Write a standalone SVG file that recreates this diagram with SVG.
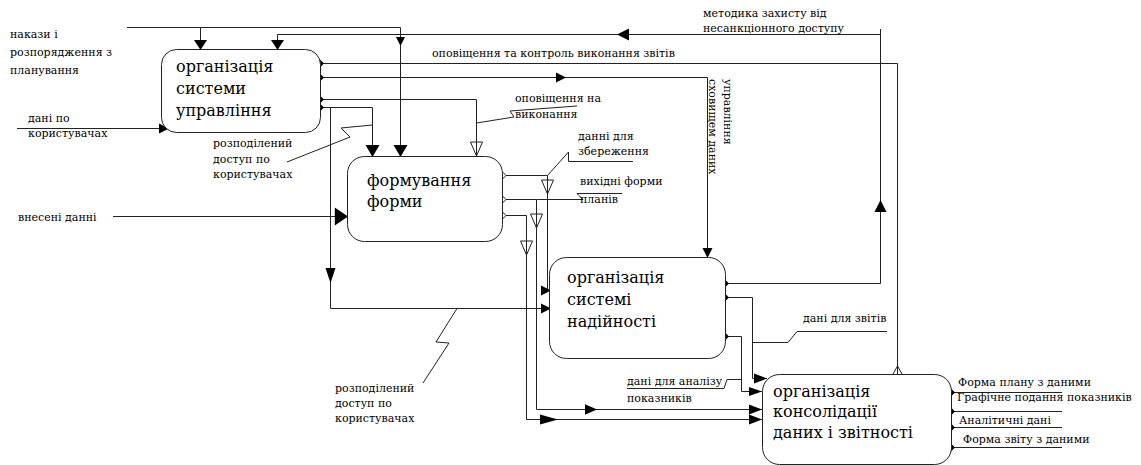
<svg xmlns="http://www.w3.org/2000/svg" xmlns:xlink="http://www.w3.org/1999/xlink" width="1141" height="465" viewBox="0 0 1141 465">
<style>
.box{fill:#fff;stroke:#222;stroke-width:1}
.nt{font-family:'DejaVu Serif','Noto Serif',serif;font-size:16px;fill:#000}
.lb{font-family:'DejaVu Serif','Noto Serif',serif;font-size:11px;fill:#000}
.ln{fill:none;stroke:#222;stroke-width:1}
.ar{fill:#000;stroke:none}
.ho{fill:none;stroke:#222;stroke-width:1}
.dh{fill:#fff;stroke:#222;stroke-width:1}
</style>
<defs>
<path id="a" d="M0,0 L-10,-5 L-10,5 Z"/>
<path id="aB" d="M0,0 L-12,-7 L-12,7 Z"/>
<path id="aL" d="M0,0 L-18,-5 L-18,5 Z"/>
<path id="h" d="M0,0 L-6,-14 L6,-14 Z"/>
<path id="d" d="M-4,0 L0,-4 L4,0 L0,4 Z"/>
</defs>
<rect width="1141" height="465" fill="#fff"/>

<g id="connectors">
  <path class="ln" d="M127,27.5 H400.5 V156"/>
  <path class="ln" d="M200.5,27.5 V49"/>
  <path class="ln" d="M725,283.5 H880.5 V29"/>
  <path class="ln" d="M880.5,34.5 H277.5 V49"/>
  <path class="ln" d="M17,128.5 H169"/>
  <path class="ln" d="M320,63.5 H897.5 V374"/>
  <path class="ln" d="M320,77.5 H707.5 V257"/>
  <path class="ln" d="M320,99.5 H476.5 V156"/>
  <path class="ln" d="M320,107.5 H372.5 V156"/>
  <path class="ln" d="M330.5,107.5 V308.5 H551"/>
  <path class="ln" d="M113,216.5 H348"/>
  <path class="ln" d="M502,175.5 H547.5 V290.5 H551"/>
  <path class="ln" d="M502,199.5 H536.5 V409.5 H762"/>
  <path class="ln" d="M536.5,199.5 H583 L577,193.5 H622"/>
  <path class="ln" d="M502,215.5 H526.5 V419.5 H762"/>
  <path class="ln" d="M725,297.5 H752.5 V378.5 H767"/>
  <path class="ln" d="M725,336.5 H741.5 V391.5 H762"/>
  <path class="ln" d="M951,392.5 H1062"/>
  <path class="ln" d="M951,411.5 H1062"/>
  <path class="ln" d="M951,427.5 H1062"/>
  <path class="ln" d="M951,447.5 H1062"/>
  <path class="ln" d="M476.5,123 L514,117 L510,111 L577,106"/>
  <path class="ln" d="M547.5,175.5 L568.5,152 V161.5 H633"/>
  <path class="ln" d="M287,162 L350,137 L341,128 L372.5,125"/>
  <path class="ln" d="M423,383 L449,343 L436,342 L457,308.5"/>
  <path class="ln" d="M752.5,342.5 H788 L797,331.5 H887"/>
  <path class="ln" d="M627,388.5 H724 L727,379.5 H741.5"/>
  <use href="#aB" class="ar" transform="translate(400.5,157) rotate(90)"/>
  <use href="#a" class="ar" transform="translate(400.5,46) rotate(90) scale(0.9)"/>
  <use href="#a" class="ar" transform="translate(200.5,50) rotate(90) scale(1,1.3)"/>
  <use href="#a" class="ar" transform="translate(277.5,50) rotate(90) scale(1,1.3)"/>
  <use href="#a" class="ar" transform="translate(880.5,200) rotate(-90) scale(1.2)"/>
  <use href="#a" class="ar" transform="translate(617,34.5) rotate(180) scale(1.2)"/>
  <use href="#a" class="ar" transform="translate(169,128.5)"/>
  <use href="#a" class="ar" transform="translate(566,77.5)"/>
  <use href="#a" class="ar" transform="translate(707.5,258) rotate(90)"/>
  <use href="#aB" class="ar" transform="translate(372.5,157) rotate(90)"/>
  <use href="#a" class="ar" transform="translate(330.5,283) rotate(90) scale(1.5,1)"/>
  <use href="#a" class="ar" transform="translate(551,308.5)"/>
  <use href="#aB" class="ar" transform="translate(348,216.5) scale(1.1,1.3)"/>
  <use href="#a" class="ar" transform="translate(551,290.5)"/>
  <use href="#aB" class="ar" transform="translate(597,409.5) scale(1,0.75)"/>
  <use href="#a" class="ar" transform="translate(762,409.5) scale(1.3,1)"/>
  <use href="#aL" class="ar" transform="translate(558,419.5)"/>
  <use href="#a" class="ar" transform="translate(762,419.5) scale(1.3,1)"/>
  <use href="#a" class="ar" transform="translate(767,378.5) scale(1.3,1)"/>
  <use href="#a" class="ar" transform="translate(762,391.5) scale(1.3,0.9)"/>
  <use href="#h" class="ho" transform="translate(476.5,156)"/>
  <use href="#h" class="ho" transform="translate(547.5,194)"/>
  <use href="#h" class="ho" transform="translate(536.5,228)"/>
  <use href="#h" class="ho" transform="translate(526.5,255)"/>
  <path class="ho" d="M893,374 L897.5,366 L902,374"/>
  <use href="#d" class="ar" transform="translate(320,63.5)"/>
  <use href="#d" class="ar" transform="translate(320,77.5)"/>
  <use href="#d" class="ar" transform="translate(320,99.5)"/>
  <use href="#d" class="ar" transform="translate(320,107.5)"/>
  <use href="#d" class="dh" transform="translate(502,175.5)"/>
  <use href="#d" class="dh" transform="translate(502,199.5)"/>
  <use href="#d" class="dh" transform="translate(502,215.5)"/>
  <use href="#d" class="ar" transform="translate(725,283.5)"/>
  <use href="#d" class="ar" transform="translate(725,297.5)"/>
  <use href="#d" class="ar" transform="translate(725,336.5)"/>
  <use href="#d" class="ar" transform="translate(951,392.5)"/>
  <use href="#d" class="ar" transform="translate(951,411.5)"/>
  <use href="#d" class="ar" transform="translate(951,427.5)"/>
  <use href="#d" class="ar" transform="translate(951,447.5)"/>
</g>

<g id="labels">
  <text class="lb" x="10" y="38">накази і</text>
  <text class="lb" x="10" y="56">розпорядження з</text>
  <text class="lb" x="10" y="74">планування</text>
  <text class="lb" x="28" y="122">дані по</text>
  <text class="lb" x="28" y="137">користувачах</text>
  <text class="lb" x="18" y="221">внесені данні</text>
  <text class="lb" x="213" y="147">розподілений</text>
  <text class="lb" x="213" y="163">доступ по</text>
  <text class="lb" x="213" y="178">користувачах</text>
  <text class="lb" x="432" y="57">оповіщення та контроль виконання звітів</text>
  <text class="lb" x="515" y="102">оповіщення на</text>
  <text class="lb" x="515" y="118">виконання</text>
  <text class="lb" x="578" y="140">данні для</text>
  <text class="lb" x="578" y="155">збереження</text>
  <text class="lb" x="580" y="185">вихідні форми</text>
  <text class="lb" x="580" y="203">планів</text>
  <text class="lb" x="703" y="17">методика захисту від</text>
  <text class="lb" x="703" y="32">несанкціонного доступу</text>
  <text class="lb" transform="translate(724,79) rotate(90)">управління</text>
  <text class="lb" transform="translate(709,79) rotate(90)">сховищем даних</text>
  <text class="lb" x="803" y="322">дані для звітів</text>
  <text class="lb" x="627" y="385">дані для аналізу</text>
  <text class="lb" x="627" y="402">показників</text>
  <text class="lb" x="335" y="392">розподілений</text>
  <text class="lb" x="335" y="407">доступ по</text>
  <text class="lb" x="335" y="422">користувачах</text>
  <text class="lb" x="958" y="386">Форма плану з даними</text>
  <text class="lb" x="957" y="401">Графічне подання показників</text>
  <text class="lb" x="959" y="424">Аналітичні дані</text>
  <text class="lb" x="963" y="443">Форма звіту з даними</text>
</g>

<g id="node1">
  <rect class="box" x="161.5" y="49.5" width="159" height="83" rx="15"/>
  <text class="nt" x="176" y="72">організація</text>
  <text class="nt" x="176" y="94">системи</text>
  <text class="nt" x="176" y="116">управління</text>
</g>
<g id="node2">
  <rect class="box" x="347.5" y="156.5" width="155" height="85" rx="17"/>
  <text class="nt" x="367" y="186">формування</text>
  <text class="nt" x="367" y="207">форми</text>
</g>
<g id="node3">
  <rect class="box" x="549.5" y="257.5" width="176" height="101" rx="17"/>
  <text class="nt" x="567" y="283">організація</text>
  <text class="nt" x="567" y="305">системі</text>
  <text class="nt" x="567" y="327">надійності</text>
</g>
<g id="node4">
  <rect class="box" x="762.5" y="374.5" width="189" height="90" rx="17"/>
  <text class="nt" x="773" y="397">організація</text>
  <text class="nt" x="773" y="417">консолідації</text>
  <text class="nt" x="773" y="438">даних і звітності</text>
</g>
</svg>
